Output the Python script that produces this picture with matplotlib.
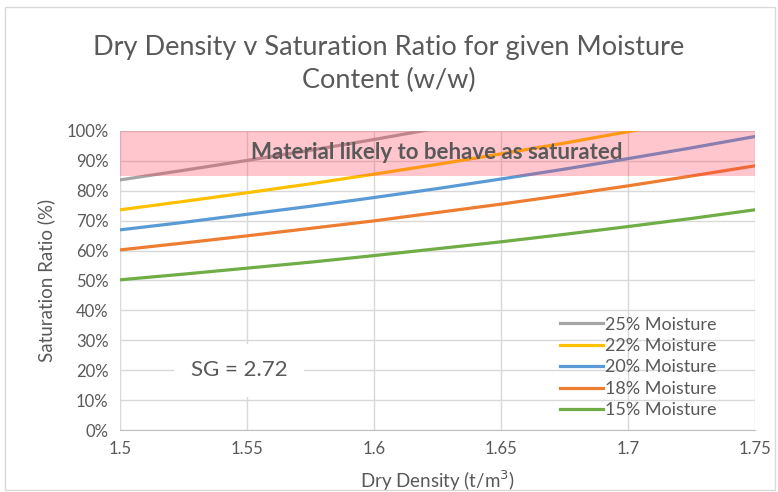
import matplotlib
matplotlib.use("Agg")
import matplotlib.pyplot as plt
import matplotlib.ticker as ticker
from matplotlib.patches import Rectangle

# ── data ─────────────────────────────────────────────────────────────────────
dry_density = [1.5, 1.525, 1.55, 1.575, 1.6, 1.625, 1.65, 1.675, 1.7, 1.725, 1.75]

sat_25 = [0.836, 0.868, 0.901, 0.935, 0.971, 1.009, 1.049, 1.090, 1.133, 1.179, 1.227]
sat_22 = [0.736, 0.764, 0.793, 0.823, 0.855, 0.888, 0.923, 0.959, 0.997, 1.037, 1.080]
sat_20 = [0.669, 0.694, 0.721, 0.748, 0.777, 0.807, 0.839, 0.872, 0.907, 0.943, 0.981]
sat_18 = [0.602, 0.625, 0.649, 0.674, 0.699, 0.727, 0.755, 0.785, 0.816, 0.849, 0.883]
sat_15 = [0.502, 0.521, 0.541, 0.561, 0.583, 0.606, 0.629, 0.654, 0.680, 0.707, 0.736]

series = [
    ("25% Moisture", sat_25, "#A5A5A5"),
    ("22% Moisture", sat_22, "#FFC000"),
    ("20% Moisture", sat_20, "#5B9BD5"),
    ("18% Moisture", sat_18, "#ED7D31"),
    ("15% Moisture", sat_15, "#70AD47"),
]

band_low, band_high = 0.85, 1.0

# ── figure ───────────────────────────────────────────────────────────────────
plt.rcParams.update({
    "font.family": ["Lato", "DejaVu Sans"],
    "font.size": 12,
    "text.color": "#595959",
    "axes.labelcolor": "#595959",
    "xtick.color": "#595959",
    "ytick.color": "#595959",
})

fig = plt.figure(figsize=(7.78, 4.92), dpi=100)
fig.patches.append(Rectangle((0.006, 0.004), 0.99, 0.982, transform=fig.transFigure,
                             fill=False, edgecolor="#D9D9D9", linewidth=1.0))
ax = fig.add_axes([0.154, 0.126, 0.816, 0.608])

for label, vals, colour in series:
    ax.plot(dry_density, vals, color=colour, linewidth=2.3, label=label, zorder=3)

ax.axhspan(band_low, band_high, color=(1.0, 0.2, 0.3), alpha=0.28,
           linewidth=0, zorder=4)
ax.text(1.625, 0.927, "Material likely to behave as saturated",
        ha="center", va="center", fontsize=16, fontweight="bold",
        color="#595959", zorder=5)

ax.text(1.547, 0.2, "SG = 2.72", ha="center", va="center", fontsize=16,
        color="#595959", zorder=5,
        bbox=dict(facecolor="white", edgecolor="none", pad=12))

ax.set_xlim(1.5, 1.75)
ax.set_ylim(0, 1.0)
ax.xaxis.set_major_locator(ticker.MultipleLocator(0.05))
ax.yaxis.set_major_locator(ticker.MultipleLocator(0.1))
ax.xaxis.set_major_formatter(ticker.FuncFormatter(lambda v, p: "{:g}".format(round(v, 2))))
ax.yaxis.set_major_formatter(ticker.FuncFormatter(lambda v, p: "{:.0f}%".format(v * 100)))
ax.tick_params(length=0, pad=8)
ax.grid(True, color="#D9D9D9", linewidth=1.0, zorder=0)
ax.set_axisbelow(True)
for side in ["top", "right", "left"]:
    ax.spines[side].set_visible(False)
ax.spines["bottom"].set_color("#BFBFBF")

ax.set_xlabel("Dry Density (t/m$^3$)", fontsize=13.5, labelpad=8)
ax.set_ylabel("Saturation Ratio (%)", fontsize=13.5, labelpad=8)

leg = ax.legend(loc="lower right", bbox_to_anchor=(0.965, -0.015), frameon=False,
                fontsize=13, handlelength=2.4, handletextpad=0.1,
                labelspacing=0.3)
for t in leg.get_texts():
    t.set_color("#595959")

fig.suptitle("Dry Density v Saturation Ratio for given Moisture\nContent (w/w)",
             fontsize=19.5, color="#595959", y=0.87, va="center", linespacing=1.35)

fig.savefig("out.png", dpi=100)
